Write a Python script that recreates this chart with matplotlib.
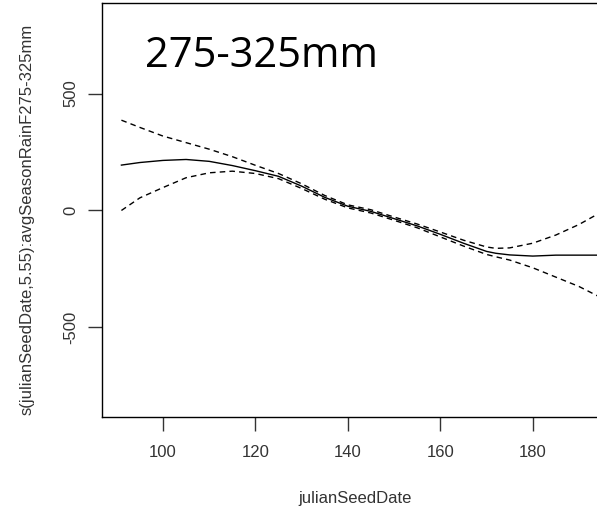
"""
GAM smooth of seed date for the 275-325mm rain band, with +/- 2 se bands.
Values read off an R mgcv plot.
"""

import matplotlib
matplotlib.use("Agg")
import matplotlib.pyplot as plt

# julian seed date grid
seed_date = [91, 95, 100, 105, 110, 115, 120, 125, 130, 135, 140, 145,
             150, 155, 160, 165, 170, 172, 175, 180, 185, 190, 195]

# fitted smooth
fit = [194, 205, 214, 218, 210, 192, 170, 146, 104, 56, 18, -4,
       -35, -66, -102, -140, -175, -183, -190, -195, -191, -191, -191]

# upper / lower confidence bands
upper = [386, 355, 318, 290, 262, 230, 193, 158, 114, 64, 24, 3,
         -28, -58, -92, -127, -156, -162, -160, -140, -105, -60, -5]
lower = [0, 54, 98, 140, 161, 168, 158, 136, 94, 48, 11, -11,
         -42, -74, -113, -152, -188, -198, -212, -245, -285, -325, -375]

y_ticks = [-500, 0, 500]
x_ticks = [100, 120, 140, 160, 180]


def main():
    plt.rcParams['font.family'] = ['Liberation Sans', 'DejaVu Sans']

    fig = plt.figure(figsize=(5.97, 5.11), dpi=100)
    ax = fig.add_axes([102 / 597, 94 / 511, 495 / 597, 414 / 511])

    ax.plot(seed_date, fit, color='black', linewidth=1.0)
    ax.plot(seed_date, upper, color='black', linewidth=1.0, linestyle=(0, (4, 3)))
    ax.plot(seed_date, lower, color='black', linewidth=1.0, linestyle=(0, (4, 3)))

    ax.set_xlim(86.8, 193.9)
    ax.set_ylim(-883, 887)
    ax.set_xticks(x_ticks)
    ax.set_yticks(y_ticks)
    ax.set_yticklabels([str(v) for v in y_ticks], rotation=90, va='center')

    ax.spines['right'].set_visible(False)
    for s in ['left', 'bottom', 'top']:
        ax.spines[s].set_linewidth(1.0)

    ax.tick_params(axis='both', length=10, width=1, labelsize=12, colors='#333333')
    ax.tick_params(axis='x', pad=10)
    ax.tick_params(axis='y', pad=7)

    # axis titles placed in figure pixels
    fig.text(355 / 597, 1 - 498 / 511, "julianSeedDate", fontsize=12,
             color='#333333', ha='center', va='center')
    fig.text(27 / 597, 1 - 219 / 511, "s(julianSeedDate,5.55):avgSeasonRainF275-325mm",
             fontsize=12, color='#333333', rotation=90, ha='center', va='center')

    fig.text(145 / 597, 1 - 67 / 511, "275-325mm", fontsize=30,
             family=['Open Sans', 'DejaVu Sans'], ha='left', va='baseline')

    fig.savefig("out.png", dpi=100)


if __name__ == '__main__':
    main()
